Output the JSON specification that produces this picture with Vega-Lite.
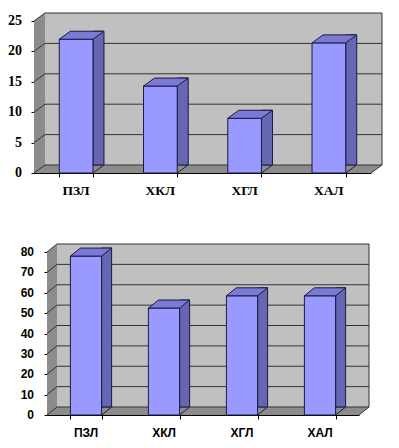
{
  "$schema": "https://vega.github.io/schema/vega-lite/v6.json",
  "background": "white",
  "padding": {"left": 8, "top": 12, "right": 5, "bottom": 5},
  "spacing": 45,
  "config": {
    "view": {"stroke": null},
    "axisX": {"title": null, "orient": "bottom", "labels": false, "tickBand": "extent", "tickSize": 4, "domainColor": "black", "tickColor": "black", "zindex": 1},
    "axisY": {"title": null, "labels": false, "grid": false, "tickSize": 3, "domainColor": "black", "tickColor": "black", "zindex": 1}
  },
  "datasets": {
    "chart1": [
      {"cat": "ПЗЛ", "value": 22},
      {"cat": "ХКЛ", "value": 14.3},
      {"cat": "ХГЛ", "value": 9},
      {"cat": "ХАЛ", "value": 21.4}
    ],
    "chart2": [
      {"cat": "ПЗЛ", "value": 78},
      {"cat": "ХКЛ", "value": 52.5},
      {"cat": "ХГЛ", "value": 58.5},
      {"cat": "ХАЛ", "value": 58.5}
    ],
    "ticks1": [{"t": 0}, {"t": 5}, {"t": 10}, {"t": 15}, {"t": 20}, {"t": 25}],
    "ticks2": [{"t": 0}, {"t": 10}, {"t": 20}, {"t": 30}, {"t": 40}, {"t": 50}, {"t": 60}, {"t": 70}, {"t": 80}],
    "one": [{"k": 1}]
  },
  "vconcat": [
    {
      "width": 337,
      "height": 152,
      "resolve": {"scale": {"x": "independent"}},
      "layer": [
        {
          "data": {"name": "one"},
          "layer": [
            {
              "mark": {"type": "rect", "fill": "#8c8c8c", "x2Offset": 11, "y2Offset": -8},
              "encoding": {
                "x": {"datum": 0, "type": "quantitative", "scale": {"domain": [0, 1]}, "axis": null},
                "x2": {"datum": 1},
                "y": {"datum": 0, "type": "quantitative", "scale": {"domain": [0, 25], "nice": false}, "axis": {"title": null, "values": [0, 5, 10, 15, 20, 25]}},
                "y2": {"datum": 25}
              }
            },
            {
              "mark": {"type": "rect", "fill": "#c0c0c0", "xOffset": 11, "x2Offset": 11, "yOffset": -8, "y2Offset": -8},
              "encoding": {
                "x": {"datum": 0, "type": "quantitative", "axis": null},
                "x2": {"datum": 1},
                "y": {"datum": 0, "type": "quantitative", "axis": {"title": null, "values": [0, 5, 10, 15, 20, 25]}},
                "y2": {"datum": 25}
              }
            },
            {
              "mark": {"type": "point", "shape": "M0,0L0,-8L11,-8Z", "size": 4, "filled": true, "fill": "white", "strokeWidth": 0, "opacity": 1},
              "encoding": {"x": {"datum": 0, "type": "quantitative", "axis": null}, "y": {"datum": 25, "type": "quantitative", "axis": {"title": null, "values": [0, 5, 10, 15, 20, 25]}}}
            },
            {
              "mark": {"type": "point", "shape": "M0,0L11,0L11,-8Z", "size": 4, "filled": true, "fill": "white", "strokeWidth": 0, "opacity": 1},
              "encoding": {"x": {"datum": 1, "type": "quantitative", "axis": null}, "y": {"datum": 0, "type": "quantitative", "axis": {"title": null, "values": [0, 5, 10, 15, 20, 25]}}}
            },
            {
              "data": {"name": "ticks1"},
              "mark": {"type": "rule", "color": "#333333", "x2Offset": 11, "y2Offset": -8},
              "encoding": {"x": {"datum": 0, "type": "quantitative", "axis": null}, "x2": {"datum": 0}, "y": {"field": "t", "type": "quantitative", "axis": {"title": null, "values": [0, 5, 10, 15, 20, 25]}}, "y2": {"field": "t"}}
            },
            {
              "data": {"name": "ticks1"},
              "mark": {"type": "rule", "color": "#333333", "xOffset": 11, "x2Offset": 11, "yOffset": -8},
              "encoding": {"x": {"datum": 0, "type": "quantitative", "axis": null}, "x2": {"datum": 1}, "y": {"field": "t", "type": "quantitative", "axis": {"title": null, "values": [0, 5, 10, 15, 20, 25]}}}
            },
            {
              "mark": {"type": "rule", "color": "#333333", "xOffset": 11, "yOffset": -8, "y2Offset": -8},
              "encoding": {"x": {"datum": 1, "type": "quantitative", "axis": null}, "y": {"datum": 0, "type": "quantitative", "axis": {"title": null, "values": [0, 5, 10, 15, 20, 25]}}, "y2": {"datum": 25}}
            },
            {
              "mark": {"type": "rule", "color": "#333333", "x2Offset": 11, "y2Offset": -8},
              "encoding": {"x": {"datum": 1, "type": "quantitative", "axis": null}, "x2": {"datum": 1}, "y": {"datum": 0, "type": "quantitative", "axis": {"title": null, "values": [0, 5, 10, 15, 20, 25]}}, "y2": {"datum": 0}}
            },
            {
              "data": {"name": "ticks1"},
              "mark": {"type": "text", "align": "right", "baseline": "middle", "dx": -12, "font": "Times New Roman, Liberation Serif, DejaVu Serif, serif", "fontWeight": "bold", "fontSize": 14, "color": "black"},
              "encoding": {"x": {"datum": 0, "type": "quantitative", "axis": null}, "y": {"field": "t", "type": "quantitative", "axis": {"title": null, "values": [0, 5, 10, 15, 20, 25]}}, "text": {"field": "t"}}
            }
          ]
        },
        {
          "data": {"name": "chart1"},
          "layer": [
            {
              "mark": {"type": "bar", "width": 11, "xOffset": 22.35, "yOffset": -8, "fill": "#6666b3", "stroke": "#1a1a40", "strokeWidth": 1},
              "encoding": {
                "x": {"field": "cat", "type": "nominal", "sort": null, "scale": {"paddingInner": 0.6, "paddingOuter": 0.3}, "axis": {"title": null}},
                "y": {"field": "value", "type": "quantitative", "axis": {"title": null, "values": [0, 5, 10, 15, 20, 25]}}
              }
            },
            {
              "mark": {"type": "point", "shape": "M0,0L11,0L11,-8Z", "size": 4, "filled": true, "fill": "#8c8c8c", "strokeWidth": 0, "opacity": 1},
              "encoding": {"x": {"field": "cat", "type": "nominal", "sort": null, "bandPosition": 1, "axis": {"title": null}}, "y": {"datum": 0, "type": "quantitative", "axis": {"title": null, "values": [0, 5, 10, 15, 20, 25]}}}
            },
            {
              "mark": {"type": "point", "shape": "M0,0L11,-8", "size": 4, "filled": false, "stroke": "#1a1a40", "strokeWidth": 1, "opacity": 1},
              "encoding": {"x": {"field": "cat", "type": "nominal", "sort": null, "bandPosition": 1, "axis": {"title": null}}, "y": {"datum": 0, "type": "quantitative", "axis": {"title": null, "values": [0, 5, 10, 15, 20, 25]}}}
            },
            {
              "mark": {"type": "bar", "fill": "#9999ff", "stroke": "#1a1a40", "strokeWidth": 1},
              "encoding": {"x": {"field": "cat", "type": "nominal", "sort": null, "axis": {"title": null}}, "y": {"field": "value", "type": "quantitative", "axis": {"title": null, "values": [0, 5, 10, 15, 20, 25]}}}
            },
            {
              "mark": {"type": "point", "shape": "M0,0L11,-8L44.7,-8L33.7,0Z", "size": 4, "filled": true, "fill": "#7b7bd6", "stroke": "#1a1a40", "strokeWidth": 1, "opacity": 1},
              "encoding": {"x": {"field": "cat", "type": "nominal", "sort": null, "bandPosition": 0, "axis": {"title": null}}, "y": {"field": "value", "type": "quantitative", "axis": {"title": null, "values": [0, 5, 10, 15, 20, 25]}}}
            },
            {
              "mark": {"type": "text", "baseline": "middle", "dy": 18, "font": "Times New Roman, Liberation Serif, DejaVu Serif, serif", "fontWeight": "bold", "fontSize": 13.5, "color": "black"},
              "encoding": {"x": {"field": "cat", "type": "nominal", "sort": null, "axis": {"title": null}}, "y": {"datum": 0, "type": "quantitative", "axis": {"title": null, "values": [0, 5, 10, 15, 20, 25]}}, "text": {"field": "cat"}}
            }
          ]
        }
      ]
    },
    {
      "width": 325,
      "height": 163,
      "resolve": {"scale": {"x": "independent"}},
      "layer": [
        {
          "data": {"name": "one"},
          "layer": [
            {
              "mark": {"type": "rect", "fill": "#8c8c8c", "x2Offset": 10, "y2Offset": -8},
              "encoding": {
                "x": {"datum": 0, "type": "quantitative", "scale": {"domain": [0, 1], "range": [13, 325]}, "axis": null},
                "x2": {"datum": 1},
                "y": {"datum": 0, "type": "quantitative", "scale": {"domain": [0, 80], "nice": false}, "axis": {"title": null, "values": [0, 10, 20, 30, 40, 50, 60, 70, 80], "offset": -13}},
                "y2": {"datum": 80}
              }
            },
            {
              "mark": {"type": "rect", "fill": "#c0c0c0", "xOffset": 10, "x2Offset": 10, "yOffset": -8, "y2Offset": -8},
              "encoding": {
                "x": {"datum": 0, "type": "quantitative", "axis": null},
                "x2": {"datum": 1},
                "y": {"datum": 0, "type": "quantitative", "axis": {"title": null, "values": [0, 10, 20, 30, 40, 50, 60, 70, 80], "offset": -13}},
                "y2": {"datum": 80}
              }
            },
            {
              "mark": {"type": "point", "shape": "M0,0L0,-8L10,-8Z", "size": 4, "filled": true, "fill": "white", "strokeWidth": 0, "opacity": 1},
              "encoding": {"x": {"datum": 0, "type": "quantitative", "axis": null}, "y": {"datum": 80, "type": "quantitative", "axis": {"title": null, "values": [0, 10, 20, 30, 40, 50, 60, 70, 80], "offset": -13}}}
            },
            {
              "mark": {"type": "point", "shape": "M0,0L10,0L10,-8Z", "size": 4, "filled": true, "fill": "white", "strokeWidth": 0, "opacity": 1},
              "encoding": {"x": {"datum": 1, "type": "quantitative", "axis": null}, "y": {"datum": 0, "type": "quantitative", "axis": {"title": null, "values": [0, 10, 20, 30, 40, 50, 60, 70, 80], "offset": -13}}}
            },
            {
              "data": {"name": "ticks2"},
              "mark": {"type": "rule", "color": "#333333", "x2Offset": 10, "y2Offset": -8},
              "encoding": {"x": {"datum": 0, "type": "quantitative", "axis": null}, "x2": {"datum": 0}, "y": {"field": "t", "type": "quantitative", "axis": {"title": null, "values": [0, 10, 20, 30, 40, 50, 60, 70, 80], "offset": -13}}, "y2": {"field": "t"}}
            },
            {
              "data": {"name": "ticks2"},
              "mark": {"type": "rule", "color": "#333333", "xOffset": 10, "x2Offset": 10, "yOffset": -8},
              "encoding": {"x": {"datum": 0, "type": "quantitative", "axis": null}, "x2": {"datum": 1}, "y": {"field": "t", "type": "quantitative", "axis": {"title": null, "values": [0, 10, 20, 30, 40, 50, 60, 70, 80], "offset": -13}}}
            },
            {
              "mark": {"type": "rule", "color": "#333333", "xOffset": 10, "yOffset": -8, "y2Offset": -8},
              "encoding": {"x": {"datum": 1, "type": "quantitative", "axis": null}, "y": {"datum": 0, "type": "quantitative", "axis": {"title": null, "values": [0, 10, 20, 30, 40, 50, 60, 70, 80], "offset": -13}}, "y2": {"datum": 80}}
            },
            {
              "mark": {"type": "rule", "color": "#333333", "x2Offset": 10, "y2Offset": -8},
              "encoding": {"x": {"datum": 1, "type": "quantitative", "axis": null}, "x2": {"datum": 1}, "y": {"datum": 0, "type": "quantitative", "axis": {"title": null, "values": [0, 10, 20, 30, 40, 50, 60, 70, 80], "offset": -13}}, "y2": {"datum": 0}}
            },
            {
              "data": {"name": "ticks2"},
              "mark": {"type": "text", "align": "right", "baseline": "middle", "dx": -13, "font": "Liberation Sans", "fontWeight": "bold", "fontSize": 12, "color": "black"},
              "encoding": {"x": {"datum": 0, "type": "quantitative", "axis": null}, "y": {"field": "t", "type": "quantitative", "axis": {"title": null, "values": [0, 10, 20, 30, 40, 50, 60, 70, 80], "offset": -13}}, "text": {"field": "t"}}
            }
          ]
        },
        {
          "data": {"name": "chart2"},
          "layer": [
            {
              "mark": {"type": "bar", "width": 10, "xOffset": 20.6, "yOffset": -8, "fill": "#6666b3", "stroke": "#1a1a40", "strokeWidth": 1},
              "encoding": {
                "x": {"field": "cat", "type": "nominal", "sort": null, "scale": {"paddingInner": 0.6, "paddingOuter": 0.3, "range": [13, 325]}, "axis": {"title": null}},
                "y": {"field": "value", "type": "quantitative", "axis": {"title": null, "values": [0, 10, 20, 30, 40, 50, 60, 70, 80], "offset": -13}}
              }
            },
            {
              "mark": {"type": "point", "shape": "M0,0L10,0L10,-8Z", "size": 4, "filled": true, "fill": "#8c8c8c", "strokeWidth": 0, "opacity": 1},
              "encoding": {"x": {"field": "cat", "type": "nominal", "sort": null, "bandPosition": 1, "axis": {"title": null}}, "y": {"datum": 0, "type": "quantitative", "axis": {"title": null, "values": [0, 10, 20, 30, 40, 50, 60, 70, 80], "offset": -13}}}
            },
            {
              "mark": {"type": "point", "shape": "M0,0L10,-8", "size": 4, "filled": false, "stroke": "#1a1a40", "strokeWidth": 1, "opacity": 1},
              "encoding": {"x": {"field": "cat", "type": "nominal", "sort": null, "bandPosition": 1, "axis": {"title": null}}, "y": {"datum": 0, "type": "quantitative", "axis": {"title": null, "values": [0, 10, 20, 30, 40, 50, 60, 70, 80], "offset": -13}}}
            },
            {
              "mark": {"type": "bar", "fill": "#9999ff", "stroke": "#1a1a40", "strokeWidth": 1},
              "encoding": {"x": {"field": "cat", "type": "nominal", "sort": null, "axis": {"title": null}}, "y": {"field": "value", "type": "quantitative", "axis": {"title": null, "values": [0, 10, 20, 30, 40, 50, 60, 70, 80], "offset": -13}}}
            },
            {
              "mark": {"type": "point", "shape": "M0,0L10,-8L41.2,-8L31.2,0Z", "size": 4, "filled": true, "fill": "#7b7bd6", "stroke": "#1a1a40", "strokeWidth": 1, "opacity": 1},
              "encoding": {"x": {"field": "cat", "type": "nominal", "sort": null, "bandPosition": 0, "axis": {"title": null}}, "y": {"field": "value", "type": "quantitative", "axis": {"title": null, "values": [0, 10, 20, 30, 40, 50, 60, 70, 80], "offset": -13}}}
            },
            {
              "mark": {"type": "text", "baseline": "middle", "dy": 18, "font": "Liberation Sans", "fontWeight": "bold", "fontSize": 12, "color": "black"},
              "encoding": {"x": {"field": "cat", "type": "nominal", "sort": null, "axis": {"title": null}}, "y": {"datum": 0, "type": "quantitative", "axis": {"title": null, "values": [0, 10, 20, 30, 40, 50, 60, 70, 80], "offset": -13}}, "text": {"field": "cat"}}
            }
          ]
        }
      ]
    }
  ]
}
